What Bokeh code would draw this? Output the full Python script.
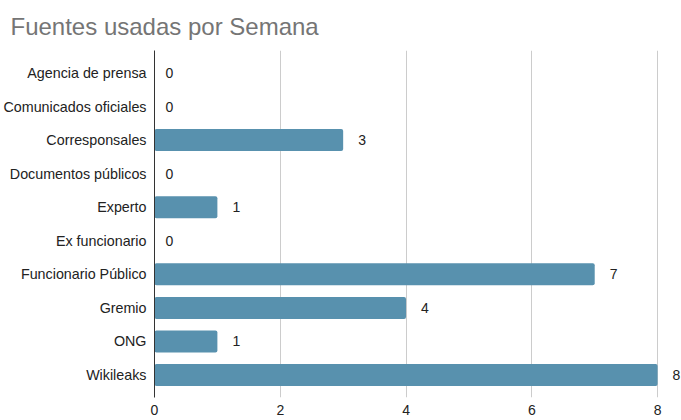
from bokeh.plotting import figure
from bokeh.models import ColumnDataSource, FactorRange, FixedTicker, LabelSet
from bokeh.core.properties import value
from bokeh.embed import file_html
from bokeh.resources import INLINE

categories = ["Agencia de prensa", "Comunicados oficiales", "Corresponsales",
              "Documentos públicos", "Experto", "Ex funcionario",
              "Funcionario Público", "Gremio", "ONG", "Wikileaks"]
values = [0, 0, 3, 0, 1, 0, 7, 4, 1, 8]
x_ticks = [0, 2, 4, 6, 8]

FONT = "Liberation Sans"
src = ColumnDataSource(dict(cat=categories, val=values,
                            lab=[str(v) for v in values],
                            off=[11 if v == 0 else 15 for v in values]))

yr = FactorRange(factors=list(reversed(categories)),
                 range_padding=0.17, range_padding_units="absolute")
p = figure(width=681, height=420, y_range=yr, x_range=(0, 8.38),
           output_backend="svg", toolbar_location=None,
           min_border_left=154, min_border_right=0, min_border_top=50,
           min_border_bottom=23)
p.outline_line_color = None

p.hbar(y="cat", right="val", left=0, height=0.655, source=src,
       fill_color="#5891ae", line_color=None, border_radius=2)

labels = LabelSet(x="val", y="cat", text="lab", source=src, x_offset="off",
                  text_baseline="middle", text_align="left",
                  text_font_size="14px", text_color="#222222",
                  text_font=value(FONT))
p.add_layout(labels)

p.title.text = "Fuentes usadas por Semana"
p.title.text_font = FONT
p.title.text_font_size = "24px"
p.title.text_font_style = "normal"
p.title.text_color = "#757575"
p.title.offset = -144
p.title.standoff = 21

p.xaxis.ticker = FixedTicker(ticks=x_ticks)
p.xaxis.axis_line_color = None
p.xaxis.major_tick_line_color = None
p.xaxis.minor_tick_line_color = None
p.xaxis.major_label_standoff = 1
p.xaxis.major_label_text_font = FONT
p.xaxis.major_label_text_font_size = "14px"
p.xaxis.major_label_text_color = "#222222"

p.yaxis.axis_line_color = "#333333"
p.yaxis.major_tick_line_color = None
p.yaxis.minor_tick_line_color = None
p.yaxis.major_label_standoff = 2
p.yaxis.major_label_text_font = FONT
p.yaxis.major_label_text_font_size = "14.3px"
p.yaxis.major_label_text_color = "#222222"

p.ygrid.grid_line_color = None
p.xgrid.grid_line_color = "#cccccc"
p.xgrid.ticker = FixedTicker(ticks=[2, 4, 6, 8])

open("out.html", "w").write(file_html(p, INLINE))
